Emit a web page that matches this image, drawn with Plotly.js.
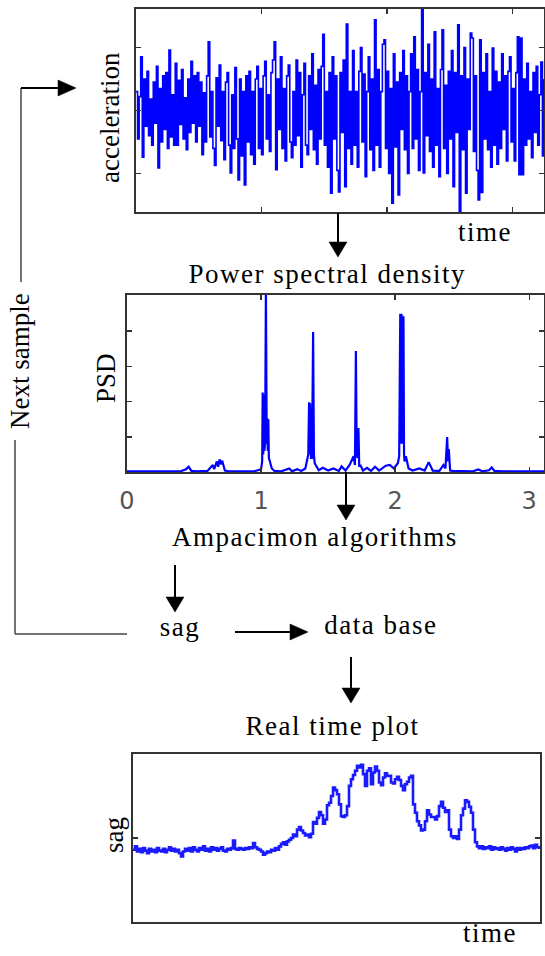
<!DOCTYPE html>
<html><head><meta charset="utf-8">
<script src="https://cdn.plot.ly/plotly-3.0.1.min.js"></script>
<style>html,body{margin:0;padding:0;background:#fff;} #chart{width:545px;height:956px;}</style>
</head><body><div id="chart"></div>
<script>
// ---------- DATA ----------
const ACC_DT = 0.0125; // time step between acceleration samples
const ACCELERATION = [
 0.3,-0.45,0.22,0.85,-0.74,0.5,-0.25,0.62,-0.4,0.18,
 -0.55,0.45,-0.2,0.7,-0.91,0.35,-0.5,0.55,-0.3,0.6,
 -0.6,0.96,-0.42,0.25,-0.55,0.75,-0.55,0.48,-0.22,0.65,
 -0.45,0.2,-0.62,0.5,-0.35,0.78,-0.2,0.55,-0.5,0.6,
 -0.25,0.45,-0.7,0.28,-0.5,0.55,1.09,-0.42,0.3,-0.6,
 -0.87,0.52,-0.25,0.72,-0.48,0.3,-0.78,0.45,0.6,-0.55,
 -0.99,0.25,-0.6,0.68,-0.45,-1.1,0.5,-0.72,0.3,-1.18,
 0.55,-0.5,0.62,-0.7,0.3,-0.85,0.5,0.7,-0.6,0.35,
 -0.7,0.55,0.78,-0.45,0.25,-0.65,0.6,0.8,1.09,-0.94,
 0.5,-0.3,0.85,-0.6,0.35,-0.8,0.55,0.72,-0.5,-0.75,
 0.3,-0.55,0.8,-0.4,0.6,-0.9,0.25,0.75,-0.55,-0.7,
 0.55,-0.3,0.9,-0.62,0.4,-0.85,0.65,-0.45,0.7,1.21,
 -0.55,0.3,-0.9,0.6,-1.31,0.85,-0.45,0.55,-0.95,-1.29,
 0.6,-0.35,0.8,-1.21,1.37,-0.6,0.3,-0.85,0.95,-0.55,
 0.3,-0.9,0.62,1.0,-0.5,0.58,-1.05,0.3,0.85,-0.62,
 0.5,-0.95,1.44,-0.55,0.65,-0.9,0.3,1.05,1.12,-0.6,
 0.62,-1.0,0.35,-1.47,0.9,-0.58,0.45,-1.34,0.6,-0.3,
 0.95,-0.62,0.55,-1.0,0.3,0.9,-0.6,1.17,-0.45,0.65,
 -0.95,0.3,1.62,-0.99,0.6,-0.4,1.05,-0.65,0.5,-0.9,
 1.25,-0.55,0.35,-1.05,0.65,1.28,-0.6,0.4,-1.0,0.62,
 -0.45,0.95,-1.21,0.6,-0.35,1.36,-1.61,0.55,-0.62,1.0,
 -1.31,0.5,-0.3,1.23,1.15,-0.65,0.55,-0.95,-1.42,1.12,
 -1.3,0.6,-0.45,0.9,-0.62,0.3,-0.9,0.99,-0.55,0.62,
 -0.85,0.45,-0.6,0.9,-0.3,0.55,-0.8,0.62,0.85,-0.5,
 0.35,-0.8,0.6,1.17,-1.02,1.15,-1.02,0.5,-0.55,0.75,
 -0.45,0.3,-0.75,0.6,-0.35,0.7,-0.55,0.25,0.77,-0.72,0.5
];

const PSD_FREQ = [
 0,0.40,0.44,0.46,0.48,0.52,0.60,0.62,0.64,0.65,0.67,0.68,0.69,0.70,0.71,0.73,0.76,
 0.95,1.00,1.008,1.012,1.016,1.02,1.024,1.03,1.036,1.042,1.046,1.05,1.054,1.058,1.062,1.07,1.08,1.10,
 1.15,1.21,1.23,1.27,1.30,1.33,1.345,1.352,1.358,1.362,1.366,1.372,1.38,1.388,1.394,1.40,1.41,1.43,
 1.46,1.50,1.54,1.58,1.60,1.63,1.66,1.69,1.70,1.707,1.713,1.72,1.726,1.732,1.74,1.76,
 1.79,1.82,1.85,1.88,1.93,1.96,1.99,2.02,2.03,2.038,2.042,2.046,2.05,2.054,2.058,2.062,2.066,2.07,2.08,2.10,
 2.13,2.18,2.22,2.25,2.28,2.33,2.36,2.375,2.388,2.394,2.40,2.405,2.41,2.43,2.48,2.58,2.62,2.65,2.70,2.72,2.74,2.80,3.11
];
const PSD_VALUES = [
 0.02,0.02,0.08,0.15,0.03,0.02,0.03,0.12,0.20,0.08,0.30,0.15,0.36,0.22,0.32,0.04,0.02,
 0.02,0.08,0.30,2.26,0.50,2.20,0.60,0.80,5.20,0.80,1.53,0.60,1.50,0.40,0.35,0.28,0.10,0.03,
 0.02,0.10,0.02,0.08,0.03,0.10,0.45,0.50,1.98,0.50,1.95,0.40,0.40,3.98,0.50,0.25,0.18,0.05,
 0.12,0.04,0.10,0.03,0.16,0.04,0.20,0.45,0.20,3.44,0.50,0.40,1.25,0.15,0.20,0.04,
 0.12,0.03,0.15,0.04,0.18,0.20,0.10,0.25,0.45,4.50,0.80,4.50,0.90,4.45,0.80,4.42,0.53,0.30,0.45,0.10,
 0.04,0.10,0.04,0.28,0.04,0.03,0.20,0.10,0.99,0.30,0.65,0.15,0.04,0.03,0.02,0.02,0.07,0.02,0.05,0.13,0.03,0.02,0.02
];
const PSD_TICKS = [0, 1, 2, 3];
const PSD_TICK_LABELS = ['0', '1', '2', '3'];

const SAG_VALUES = [
 0.86,0.90,0.84,0.87,0.83,0.88,0.85,0.82,0.87,0.84,
 0.86,0.83,0.88,0.85,0.84,0.87,0.83,0.86,0.89,0.85,
 0.87,0.84,0.86,0.82,0.78,0.84,0.87,0.85,0.88,0.84,
 0.89,0.86,0.84,0.88,0.86,0.90,0.85,0.87,0.84,0.89,
 0.86,0.88,0.85,0.87,0.89,0.85,0.84,0.87,0.86,0.88,
 0.97,0.87,0.86,0.88,0.87,0.86,0.88,0.87,0.89,0.88,
 0.94,0.89,0.87,0.86,0.84,0.80,0.82,0.84,0.83,0.86,
 0.85,0.88,0.86,0.90,0.93,0.95,0.92,0.96,0.98,1.00,
 1.04,1.02,1.10,1.13,1.09,1.06,1.03,1.04,1.01,1.05,
 1.19,1.17,1.24,1.31,1.27,1.17,1.22,1.39,1.42,1.50,
 1.60,1.57,1.52,1.40,1.26,1.25,1.27,1.38,1.62,1.70,
 1.75,1.80,1.86,1.84,1.87,1.76,1.62,1.80,1.83,1.64,
 1.78,1.85,1.80,1.66,1.63,1.72,1.77,1.74,1.74,1.66,
 1.65,1.70,1.73,1.69,1.62,1.57,1.64,1.67,1.72,1.74,
 1.40,1.30,1.20,1.15,1.09,1.10,1.20,1.33,1.28,1.25,
 1.25,1.22,1.26,1.38,1.43,1.36,1.31,1.33,1.10,1.02,
 1.00,1.02,0.99,1.10,1.27,1.35,1.45,1.43,1.37,1.30,
 1.10,0.95,0.90,0.88,0.90,0.87,0.89,0.88,0.90,0.86,
 0.89,0.87,0.88,0.86,0.89,0.87,0.85,0.88,0.86,0.89,
 0.87,0.84,0.88,0.86,0.88,0.87,0.89,0.88,0.90,0.91,
 0.88,0.92,0.89,0.87
];

const TXT_ACC_Y = 'acceleration';
const TXT_TIME = 'time';
const TXT_PSD_TITLE = 'Power spectral density';
const TXT_PSD_Y = 'PSD';
const TXT_ALGO = 'Ampacimon algorithms';
const TXT_SAG = 'sag';
const TXT_DB = 'data base';
const TXT_RT = 'Real time plot';
const TXT_NEXT = 'Next sample';

// ---------- LAYOUT HELPERS ----------
const W = 545, H = 956;
const px = x => x / W;
const py = y => 1 - y / H;
const BLUE = '#0000ff';
const FRAME = '#333333';
const SERIF = 'Liberation Serif, Times New Roman, serif';

const accTime = ACCELERATION.map((_, i) => i * ACC_DT);
const sagTime = SAG_VALUES.map((_, i) => i);

const traces = [
  {x: accTime, y: ACCELERATION, xaxis: 'x', yaxis: 'y', mode: 'lines',
   line: {color: BLUE, width: 1.6, shape: 'hv'}, hoverinfo: 'skip'},
  {x: PSD_FREQ, y: PSD_VALUES, xaxis: 'x2', yaxis: 'y2', mode: 'lines',
   line: {color: BLUE, width: 2.2}, hoverinfo: 'skip'},
  {x: sagTime, y: SAG_VALUES, xaxis: 'x3', yaxis: 'y3', mode: 'lines',
   line: {color: '#1a1aff', width: 2.6, shape: 'hv'}, hoverinfo: 'skip'}
];

function frameAxis(extra) {
  return Object.assign({
    showline: true, linecolor: FRAME, linewidth: 2, mirror: 'ticks',
    ticks: 'inside', ticklen: 5, tickwidth: 1.5, tickcolor: FRAME,
    showgrid: false, zeroline: false, showticklabels: false, fixedrange: true
  }, extra);
}

const shapes = [];
function seg(x0, y0, x1, y1, color, width) {
  shapes.push({type: 'line', xref: 'paper', yref: 'paper',
    x0: px(x0), y0: py(y0), x1: px(x1), y1: py(y1),
    line: {color: color || '#000', width: width || 2}});
}
function tri(pts) {
  const d = 'M ' + pts.map(p => px(p[0]) + ',' + py(p[1])).join(' L ') + ' Z';
  shapes.push({type: 'path', xref: 'paper', yref: 'paper', path: d,
    fillcolor: '#000', line: {color: '#000', width: 0.5}});
}
function arrowDown(x, yStart, yTip) {
  seg(x, yStart, x, yTip - 12);
  tri([[x - 9, yTip - 15], [x + 9, yTip - 15], [x, yTip]]);
}
function arrowRight(y, xStart, xTip) {
  seg(xStart, y, xTip - 12, y);
  tri([[xTip - 18, y - 8], [xTip - 18, y + 8], [xTip, y]]);
}

// feedback loop ("Next sample")
seg(21, 282, 21, 88, '#444', 1.5);
arrowRight(88, 21, 76);
seg(15, 440, 15, 634, '#444', 1.5);
seg(15, 634, 127, 634, '#444', 1.5);
// flow arrows
arrowDown(338, 213, 257);
arrowDown(346, 472, 520);
arrowDown(175, 565, 612);
arrowRight(632, 235, 308);
arrowDown(351, 657, 703);

function label(text, x, y, size, angle) {
  return {text: text, xref: 'paper', yref: 'paper', x: px(x), y: py(y),
    xanchor: 'center', yanchor: 'middle', showarrow: false, textangle: angle || 0,
    font: {family: SERIF, size: size || 27, color: '#000'}};
}

const annotations = [
  label(TXT_ACC_Y, 110, 118, 27, -90),
  label(TXT_TIME, 485, 232, 27),
  label(TXT_PSD_TITLE, 327, 274, 27),
  label(TXT_PSD_Y, 106, 378, 27, -90),
  label(TXT_ALGO, 315, 537, 27),
  label(TXT_SAG, 180, 627, 27),
  label(TXT_DB, 381, 625, 27),
  label(TXT_RT, 332, 726, 27),
  label(TXT_SAG, 114, 835, 27, -90),
  label(TXT_TIME, 490, 933, 27),
  label(TXT_NEXT, 20, 361, 27, -90)
];
const WIDE_LABELS = [1, 2, 4, 5, 6, 7, 9]; // horizontal labels, set slightly wider as in the picture

const layout = {
  width: W, height: H, margin: {l: 0, r: 0, t: 0, b: 0},
  paper_bgcolor: '#fff', plot_bgcolor: '#fff', showlegend: false,
  xaxis: frameAxis({domain: [px(136), px(544)], range: [0, 3.25], tickvals: [1, 2, 3], anchor: 'y'}),
  yaxis: frameAxis({domain: [py(212), py(9)], range: [-1.61, 1.61], tickvals: [-1, 0, 1], anchor: 'x'}),
  xaxis2: frameAxis({domain: [px(127), px(544)], range: [0, 3.11], tickvals: PSD_TICKS, ticktext: PSD_TICK_LABELS,
    showticklabels: true, ticklabelstandoff: 6,
    tickfont: {family: 'DejaVu Sans, sans-serif', size: 24, color: '#555'}, anchor: 'y2'}),
  yaxis2: frameAxis({domain: [py(472), py(295)], range: [0, 5.03], tickvals: [1, 2, 3, 4], anchor: 'x2'}),
  xaxis3: frameAxis({domain: [px(133), px(540)], range: [0, 203.5], ticks: '', anchor: 'y3'}),
  yaxis3: frameAxis({domain: [py(922), py(754)], range: [0, 2], tickvals: [1], anchor: 'x3'}),
  shapes: shapes,
  annotations: annotations
};

Plotly.newPlot('chart', traces, layout, {staticPlot: true, displayModeBar: false}).then(gd => {
  gd.querySelectorAll('.annotation').forEach(g => {
    const idx = parseInt(g.getAttribute('data-index'), 10);
    if (WIDE_LABELS.indexOf(idx) >= 0) {
      g.querySelectorAll('text').forEach(t => { t.style.letterSpacing = '1.5px'; });
    }
  });
});
</script>
</body></html>
